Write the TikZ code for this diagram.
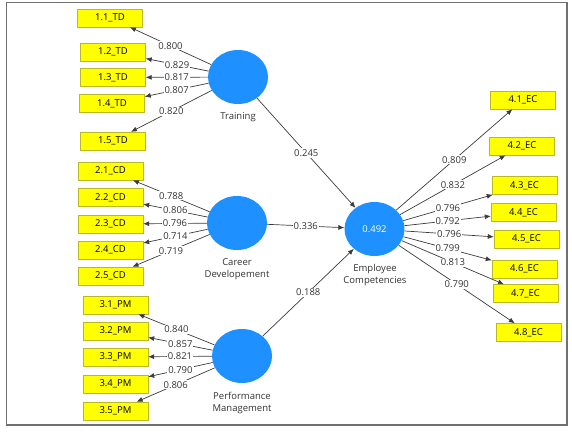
\documentclass[tikz,border=0pt]{standalone}
\usepackage{fontspec}
\setmainfont{Open Sans}
\usetikzlibrary{arrows.meta,shapes.geometric}
\definecolor{lvblue}{RGB}{30,144,255}
\definecolor{indyellow}{RGB}{255,255,0}
\definecolor{indborder}{RGB}{185,185,40}
\definecolor{linegray}{RGB}{60,60,60}
\definecolor{framegray}{RGB}{112,112,112}
\tikzset{
  latent/.style={ellipse,fill=lvblue,minimum width=60pt,minimum height=54pt,inner sep=0pt,text=white},
  indicator/.style={rectangle,draw=indborder,fill=indyellow,minimum width=65pt,minimum height=18pt,inner sep=0pt},
  lvname/.style={align=center,text=black!80,inner sep=0pt},
  loading/.style={draw=linegray,line width=0.7pt,-{Latex[length=6pt,width=5pt]}},
  coef/.style={fill=white,inner sep=1pt,text=black!80}
}
\begin{document}
\begin{tikzpicture}[x=1pt,y=-1pt,font=\fontsize{9.5}{12}\selectfont]
  \useasboundingbox (0,0) rectangle (572,438);
  \draw [framegray,line width=1.2pt] (6.5,2.5) rectangle (567,425);
  % latent variables
  \node[latent] (TD) at (238,77) {};
  \node[latent] (CD) at (237,223) {};
  \node[latent] (PM) at (242,356) {};
  \node[latent] (EC) at (374.5,229) {0.492};
  \node[lvname] (TDname) at (238,117) {Training};
  \node[lvname] (CDname) at (237,269) {Career\\Developement};
  \node[lvname] (PMname) at (242,403.5) {Performance\\Management};
  \node[lvname] (ECname) at (375,275.5) {Employee\\Competencies};
  % indicators
  \foreach \n/\x/\y in {1/110/18,2/113/52,3/113/77.5,4/112/103.5,5/113/141}
    \node[indicator] (td\n) at (\x,\y) {1.\n\_TD};
  \foreach \n/\y in {1/171,2/197.5,3/224,4/250,5/276}
    \node[indicator] (cd\n) at (110.5,\y) {2.\n\_CD};
  \foreach \n/\y in {1/305,2/331,3/357,4/384,5/411}
    \node[indicator] (pm\n) at (115.5,\y) {3.\n\_PM};
  \foreach \n/\x/\y in {1/523/100,2/522/146,3/524.5/185.5,4/523.5/212.5,5/526.5/239,6/524.5/269,7/525.5/293.5,8/528.5/332.5}
    \node[indicator] (ec\n) at (\x,\y) {4.\n\_EC};
  % outer loadings
  \foreach \n/\v in {1/0.800,2/0.829,3/0.817,4/0.807,5/0.820}
    \draw[loading] (TD) -- node[coef] {\v} (td\n);
  \foreach \n/\v in {1/0.788,2/0.806,3/0.796,4/0.714,5/0.719}
    \draw[loading] (CD) -- node[coef] {\v} (cd\n);
  \foreach \n/\v in {1/0.840,2/0.857,3/0.821,4/0.790,5/0.806}
    \draw[loading] (PM) -- node[coef] {\v} (pm\n);
  \foreach \n/\v in {1/0.809,2/0.832,3/0.796,4/0.792,5/0.796,6/0.799,7/0.813,8/0.790}
    \draw[loading] (EC) -- node[coef] {\v} (ec\n);
  % path coefficients
  \draw[loading] (TD) -- node[coef] {0.245} (EC);
  \draw[loading] (CD) -- node[coef] {0.336} (EC);
  \draw[loading] (PM) -- node[coef] {0.188} (EC);
\end{tikzpicture}
\end{document}
